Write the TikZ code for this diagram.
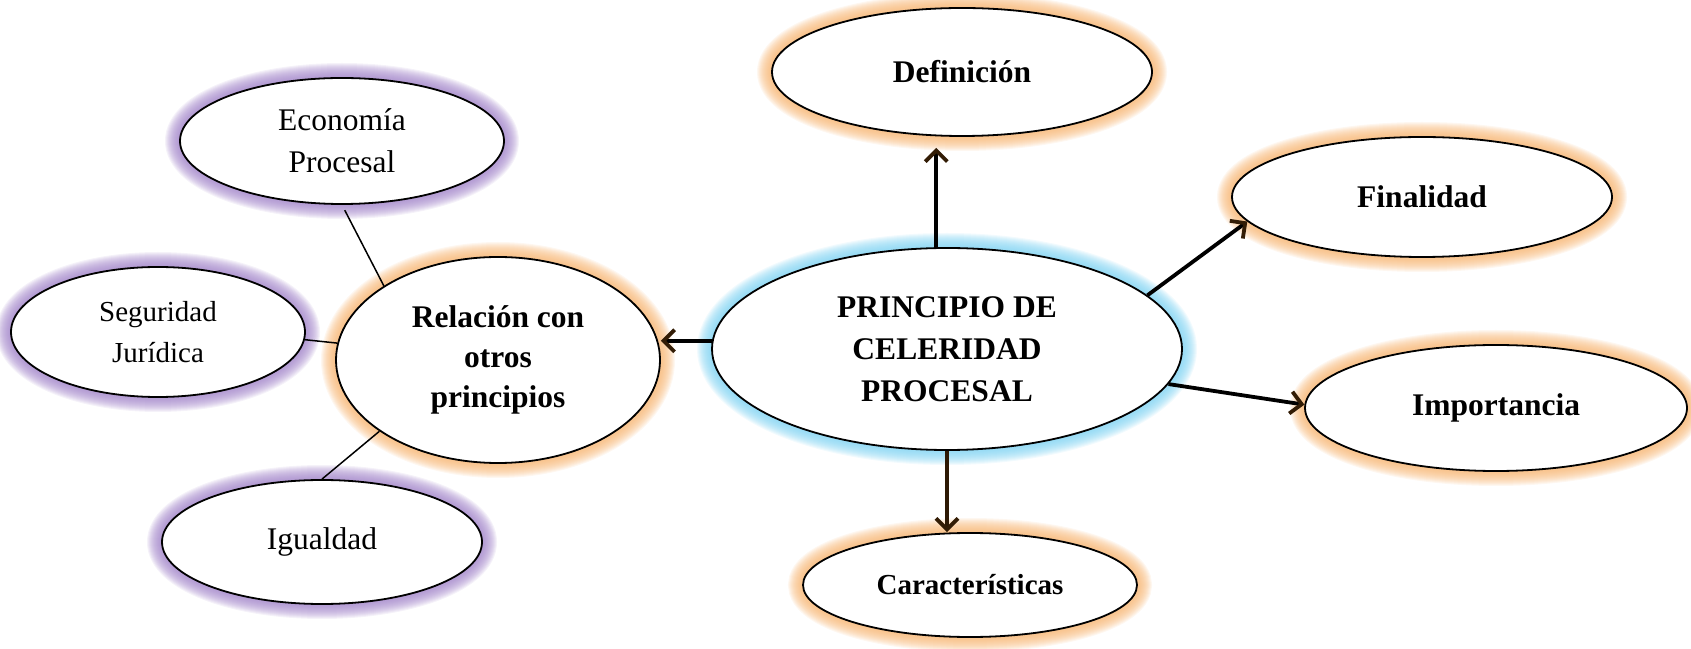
\documentclass[tikz,border=0pt]{standalone}
\usepackage{fontspec}
\setmainfont{Liberation Serif}
\usetikzlibrary{arrows.meta,shapes.geometric}
\definecolor{glowO}{RGB}{247,180,112}
\definecolor{glowP}{RGB}{160,130,200}
\definecolor{glowB}{RGB}{125,210,242}
\definecolor{brownarr}{RGB}{45,25,5}
\definecolor{tipbrown}{RGB}{50,28,5}
\newcommand\bub[8]{%
  \foreach \w in {30,28,...,2}{\draw[#6, line width=\w pt, opacity=0.1] (#2pt,#3pt) ellipse [x radius=#4pt, y radius=#5pt];}
  \node[ell, minimum width=2*#4pt, minimum height=2*#5pt, #7] (#1) at (#2pt,#3pt) {#8};
}
\tikzset{
  ell/.style={ellipse, draw=black, line width=1.8pt, fill=white, inner sep=0pt, align=center,
              font=\fontsize{31.5}{42}\selectfont},
  bf/.style={font=\fontsize{31.5}{42}\selectfont\bfseries},
  arr/.style={line width=3.8pt, -{Straight Barb[length=11pt,width=22pt,color=tipbrown]}},
  thinln/.style={line width=1.5pt}
}
\begin{document}
\begin{tikzpicture}
\useasboundingbox (0,0) rectangle (1691pt,648pt);
\bub{c}{947}{299}{235}{101}{glowB}{bf}{PRINCIPIO DE\\CELERIDAD\\PROCESAL}
\bub{d}{962}{576}{190}{64}{glowO}{bf}{Definición}
\bub{f}{1422}{451}{190}{60}{glowO}{bf}{Finalidad}
\bub{m}{1496}{240}{191}{63}{glowO}{bf}{Importancia}
\bub{k}{970}{63}{167}{52}{glowO}{font=\fontsize{29}{40}\selectfont\bfseries}{Características}
\bub{r}{498}{288}{162}{103}{glowO}{font=\fontsize{31.5}{40}\selectfont\bfseries}{Relación con\\otros\\principios}
\bub{e}{342}{507}{162}{63}{glowP}{}{Economía\\Procesal}
\bub{s}{158}{316}{147}{65}{glowP}{font=\fontsize{29}{41}\selectfont}{Seguridad\\Jurídica}
\bub{i}{322}{106}{160}{62}{glowP}{}{Igualdad}

\draw[arr, shorten >=11pt] (c.96) -- (c.96 |- d.south);
\draw[arr] (c.15) -- (f.188);
\draw[arr] (c.-9) -- (m.179);
\draw[arr, draw=brownarr] (c.south) -- (c.south |- k.north);
\draw[arr] (c.178) -- (c.178 -| r.east);

\draw[thinln, shorten >=6pt] (r.147) -- (e.south);
\draw[thinln] (r.174.6) -- (s.-3);
\draw[thinln] (r.211) -- (i.north);
\end{tikzpicture}
\end{document}
